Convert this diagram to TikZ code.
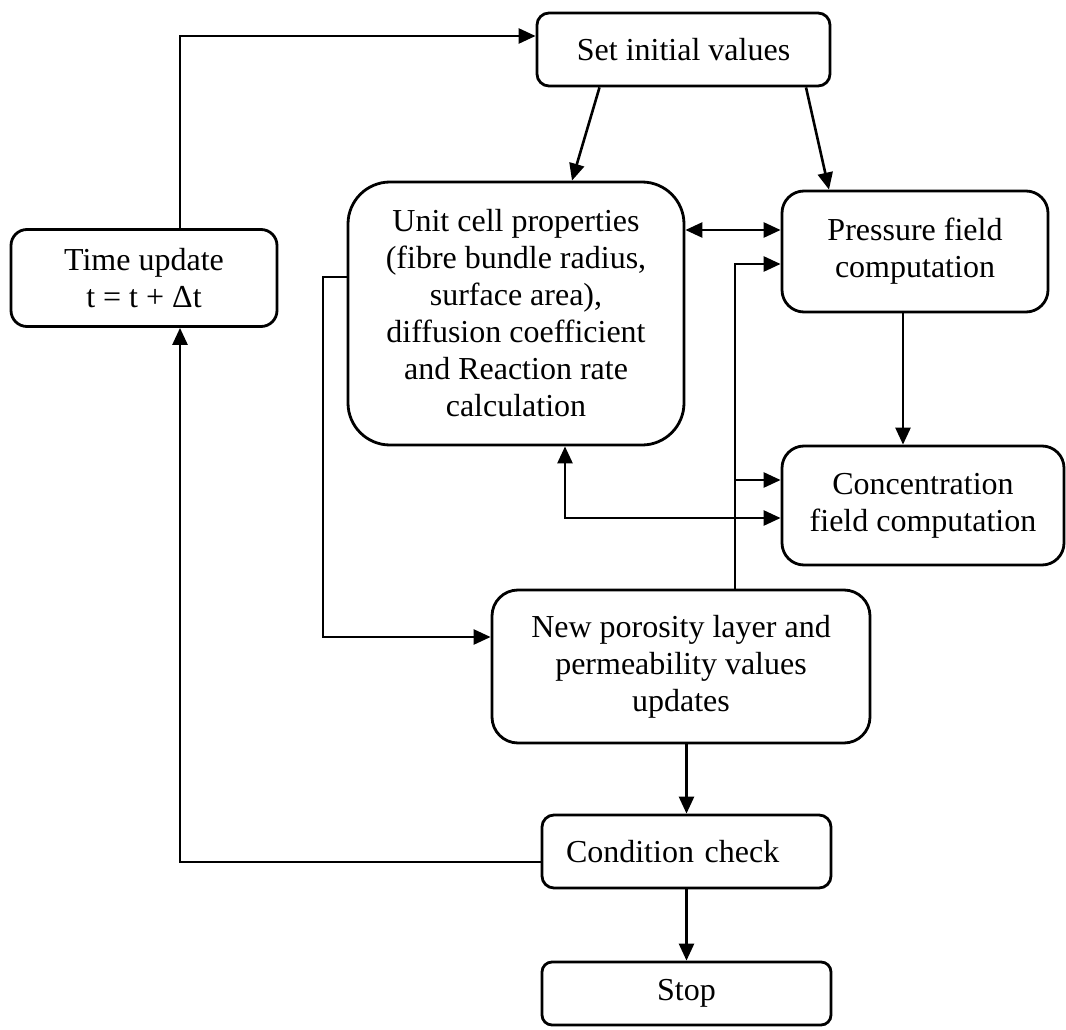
\documentclass[tikz,border=0pt]{standalone}
\usepackage{fontspec}
\setmainfont{Liberation Serif}
\usetikzlibrary{arrows.meta}

\begin{document}
\begin{tikzpicture}[x=1pt,y=-1pt,
  font=\fontsize{32}{37}\selectfont,
  box/.style={draw, line width=2.8pt, rectangle, inner sep=0pt, align=center},
  arr/.style={line width=2.6pt, -{Triangle[length=17pt,width=15pt]}},
  arrtwo/.style={line width=2.6pt, {Triangle[length=17pt,width=15pt]}-{Triangle[length=17pt,width=15pt]}}
]
\useasboundingbox (0,0) rectangle (1066,1030);

% process boxes
\node[box, rounded corners=12pt, minimum width=293pt, minimum height=73pt]
  (si) at (683.5,49.5) {Set initial values};
\node[box, rounded corners=16pt, minimum width=266pt, minimum height=97pt]
  (tu) at (144,278) {Time update\\t = t + Δt};
\node[box, rounded corners=42pt, minimum width=336pt, minimum height=263pt]
  (uc) at (516,313.5) {Unit cell properties\\(fibre bundle radius,\\surface area),\\diffusion coefficient\\and Reaction rate\\calculation};
\node[box, rounded corners=22pt, minimum width=266pt, minimum height=121pt]
  (pf) at (915,251.5) {Pressure field\\computation};
\node[box, rounded corners=22pt, minimum width=282pt, minimum height=119pt]
  (cf) at (923,505.5) {Concentration\\field computation};
\node[box, rounded corners=26pt, minimum width=378pt, minimum height=153pt]
  (np) at (681,666.5) {New porosity layer and\\permeability values\\updates};
\node[box, rounded corners=12pt, minimum width=289pt, minimum height=73pt,
  align=left, text width=241pt, inner xsep=24pt]
  (cc) at (686.5,851.5) {Condition check};
\node[box, rounded corners=10pt, minimum width=289pt, minimum height=63pt]
  (st) at (686.5,993.5) {Stop};

% routing corners
\coordinate (tl) at (180,36);
\coordinate (bl) at (180,862);
\coordinate (da) at (0,230);
\coordinate (lp) at (323,277);
\coordinate (lq) at (323,637);
\coordinate (vp) at (735,264);
\coordinate (vb) at (735,480);
\coordinate (ub) at (565,518);
\coordinate (pc) at (903,0);

% time loop
\draw[arr] (tu.north -| tl) -- (tl) -- (tl -| si.west);
\draw[arr] (cc.west |- bl) -- (bl) -- (bl |- tu.south);

% initial values
\draw[arr] ([xshift=-84pt]si.south) -- ([xshift=56pt]uc.north);
\draw[arr] ([xshift=122.5pt]si.south) -- ([xshift=-86pt]pf.north);

% coupling between unit cell and fields
\draw[arrtwo] (uc.east |- da) -- (pf.west |- da);
\draw[arrtwo] (uc.south -| ub) -- (ub) -- (ub -| cf.west);
\draw[arr] (pf.south -| pc) -- (cf.north -| pc);

% porosity update feedback
\draw[arr] (uc.west |- lp) -- (lp) -- (lq) -- (lq -| np.west);
\draw[arr] (np.north -| vp) -- (vp) -- (vp -| pf.west);
\draw[arr] (vb) -- (vb -| cf.west);

% termination
\draw[arr] (np.south -| cc.north) -- (cc.north);
\draw[arr] (cc.south) -- (st.north);
\end{tikzpicture}
\end{document}
